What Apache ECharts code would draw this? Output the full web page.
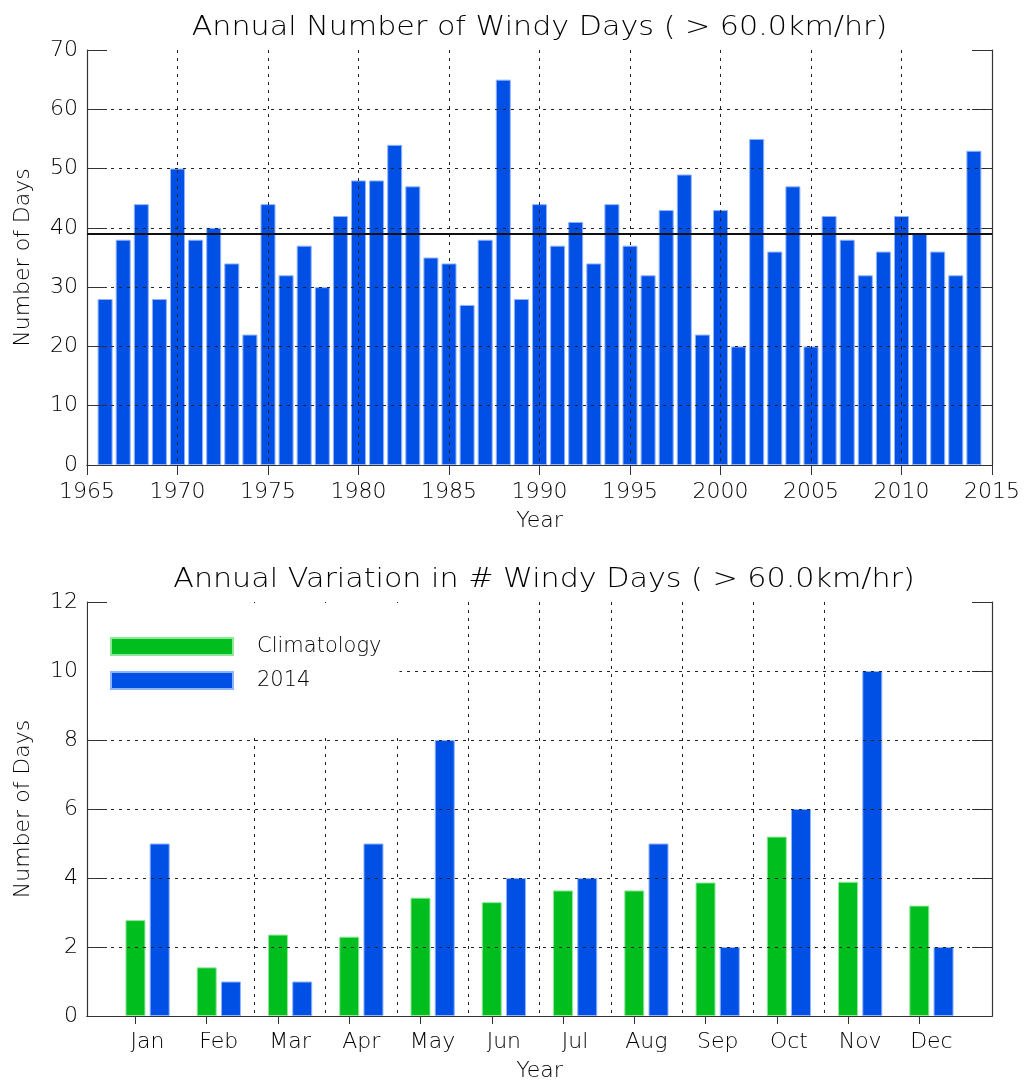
<!DOCTYPE html>
<html>
<head>
<meta charset="utf-8">
<script src="https://cdn.jsdelivr.net/npm/echarts@6/dist/echarts.min.js"></script>
<style>
  html, body { margin: 0; padding: 0; background: #fff; }
  #chart { width: 1035px; height: 1082px; }
</style>
</head>
<body>
<div id="chart"></div>
<script>
// annual windy days, 1966-2014
const years = [
  1966, 1967, 1968, 1969, 1970, 1971, 1972, 1973, 1974, 1975,
  1976, 1977, 1978, 1979, 1980, 1981, 1982, 1983, 1984, 1985,
  1986, 1987, 1988, 1989, 1990, 1991, 1992, 1993, 1994, 1995,
  1996, 1997, 1998, 1999, 2000, 2001, 2002, 2003, 2004, 2005,
  2006, 2007, 2008, 2009, 2010, 2011, 2012, 2013, 2014
];
const windyDays = [
  28, 38, 44, 28, 50, 38, 40, 34, 22, 44,
  32, 37, 30, 42, 48, 48, 54, 47, 35, 34,
  27, 38, 65, 28, 44, 37, 41, 34, 44, 37,
  32, 43, 49, 22, 43, 20, 55, 36, 47, 20,
  42, 38, 32, 36, 42, 39, 36, 32, 53
];
const meanDays = 39;

// monthly: climatology vs 2014
const months = ['Jan', 'Feb', 'Mar', 'Apr', 'May', 'Jun', 'Jul', 'Aug', 'Sep', 'Oct', 'Nov', 'Dec'];
const climatology = [2.78, 1.41, 2.36, 2.30, 3.43, 3.30, 3.64, 3.64, 3.87, 5.20, 3.89, 3.20];
const days2014 = [5, 1, 1, 5, 8, 4, 4, 5, 2, 6, 10, 2];

const FONT = 'DejaVu Sans';
const WEIGHT = 300;
const TXT = '#000';
const BLUE = '#0050e6';
const GREEN = '#00be1e';
const EDGE = '#333';
const dotted = { color: '#222', width: 1, type: [3, 5] };

const chart = echarts.init(document.getElementById('chart'), null, { renderer: 'canvas' });

const boxLine = { show: true, lineStyle: { color: EDGE, width: 1.2 } };
const yLabel = { color: TXT, fontFamily: FONT, fontWeight: WEIGHT, fontSize: 22, margin: 9 };
const axisName = { color: TXT, fontFamily: FONT, fontWeight: WEIGHT, fontSize: 22 };

// month group centres at 1..12, pair of bars either side
const monthPos = months.map((m, i) => i + 1);

const titleStyle = { fontFamily: FONT, fontWeight: WEIGHT, fontSize: 26, fill: TXT, align: 'center', verticalAlign: 'middle' };

const option = {
  animation: false,
  backgroundColor: '#fff',
  graphic: [
    {
      type: 'text', x: 539.5, y: 28, scaleX: 1.16,
      style: Object.assign({ text: 'Annual Number of Windy Days ( > 60.0km/hr)' }, titleStyle)
    },
    {
      type: 'text', x: 544, y: 580, scaleX: 1.16,
      style: Object.assign({ text: 'Annual Variation in # Windy Days ( > 60.0km/hr)' }, titleStyle)
    }
  ],
  legend: {
    left: 88, top: 603,
    orient: 'vertical',
    backgroundColor: '#fff',
    padding: [33, 18, 47, 22],
    itemWidth: 122, itemHeight: 17, itemGap: 13,
    icon: 'rect',
    z: 10,
    textStyle: { color: TXT, fontFamily: FONT, fontWeight: WEIGHT, fontSize: 21, padding: [0, 0, 0, 19] },
    data: ['Climatology', '2014']
  },
  grid: [
    { left: 87, right: 43, top: 50, height: 415, outerBoundsMode: 'none' },
    { left: 87, right: 43, top: 602, height: 414, outerBoundsMode: 'none' }
  ],
  xAxis: [
    {
      type: 'value', gridIndex: 0, min: 1965, max: 2015, interval: 5, z: 3,
      name: 'Year', nameLocation: 'middle', nameGap: 45, nameTextStyle: axisName,
      axisLine: boxLine, axisTick: { show: false },
      axisLabel: { color: TXT, fontFamily: FONT, fontWeight: WEIGHT, fontSize: 22, margin: 16, formatter: v => String(v) },
      splitLine: { show: true, showMinLine: false, showMaxLine: false, lineStyle: dotted }
    },
    {
      type: 'value', gridIndex: 0, position: 'top', min: 1965, max: 2015, interval: 5,
      axisLine: boxLine, axisLabel: { show: false },
      axisTick: { show: true, inside: true, length: 10, lineStyle: { color: EDGE } },
      splitLine: { show: false }
    },
    {
      type: 'value', gridIndex: 1, min: 0.15, max: 12.85, z: 3,
      name: 'Year', nameLocation: 'middle', nameGap: 44, nameTextStyle: axisName,
      axisLine: boxLine,
      axisTick: { show: false, customValues: monthPos.map(p => p + 0.5).slice(0, 11) },
      axisLabel: {
        color: TXT, fontFamily: FONT, fontWeight: WEIGHT, fontSize: 22, margin: 15,
        customValues: monthPos,
        formatter: v => months[Math.round(v) - 1]
      },
      splitLine: { show: true, showMinLine: false, showMaxLine: false, lineStyle: dotted }
    },
    {
      type: 'value', gridIndex: 1, position: 'top', min: 0.15, max: 12.85,
      axisLine: boxLine, axisLabel: { show: false },
      axisTick: { show: true, inside: true, length: 8, customValues: monthPos.map(p => p - 0.17), lineStyle: { color: EDGE } },
      splitLine: { show: false }
    }
  ],
  yAxis: [
    {
      type: 'value', gridIndex: 0, min: 0, max: 70, interval: 10, z: 3,
      name: 'Number of Days', nameLocation: 'middle', nameGap: 53, nameRotate: 90, nameTextStyle: axisName,
      axisLine: boxLine, axisLabel: yLabel,
      axisTick: { show: true, inside: true, length: 20, lineStyle: { color: EDGE } },
      splitLine: { show: true, showMinLine: false, showMaxLine: false, lineStyle: dotted }
    },
    {
      type: 'value', gridIndex: 0, position: 'right', min: 0, max: 70, interval: 10,
      axisLine: boxLine, axisLabel: { show: false },
      axisTick: { show: true, inside: true, length: 20, lineStyle: { color: EDGE } },
      splitLine: { show: false }
    },
    {
      type: 'value', gridIndex: 1, min: 0, max: 12, interval: 2, z: 3,
      name: 'Number of Days', nameLocation: 'middle', nameGap: 53, nameRotate: 90, nameTextStyle: axisName,
      axisLine: boxLine, axisLabel: yLabel,
      axisTick: { show: true, inside: true, length: 20, lineStyle: { color: EDGE } },
      splitLine: { show: true, showMinLine: false, showMaxLine: false, lineStyle: dotted }
    },
    {
      type: 'value', gridIndex: 1, position: 'right', min: 0, max: 12, interval: 2,
      axisLine: boxLine, axisLabel: { show: false },
      axisTick: { show: true, inside: true, length: 20, lineStyle: { color: EDGE } },
      splitLine: { show: false }
    }
  ],
  series: [
    {
      name: 'Windy days',
      type: 'bar',
      xAxisIndex: 0, yAxisIndex: 0,
      barWidth: 15,
      data: years.map((y, i) => [y, windyDays[i]]),
      itemStyle: { color: BLUE, borderColor: '#8fb3ff', borderWidth: 1 },
      markLine: {
        silent: true, symbol: 'none', label: { show: false },
        lineStyle: { color: '#111', width: 2, type: 'solid' },
        data: [{ yAxis: meanDays }]
      }
    },
    {
      name: 'Climatology',
      type: 'bar',
      xAxisIndex: 2, yAxisIndex: 2,
      barWidth: 20, barGap: '-100%',
      data: climatology.map((v, i) => [monthPos[i] - 0.17, v]),
      itemStyle: { color: GREEN, borderColor: '#8fe89a', borderWidth: 1 }
    },
    {
      name: '2014',
      type: 'bar',
      xAxisIndex: 2, yAxisIndex: 2,
      barWidth: 20, barGap: '-100%',
      data: days2014.map((v, i) => [monthPos[i] + 0.17, v]),
      itemStyle: { color: BLUE, borderColor: '#8fb3ff', borderWidth: 1 }
    }
  ]
};

chart.setOption(option);
</script>
</body>
</html>
